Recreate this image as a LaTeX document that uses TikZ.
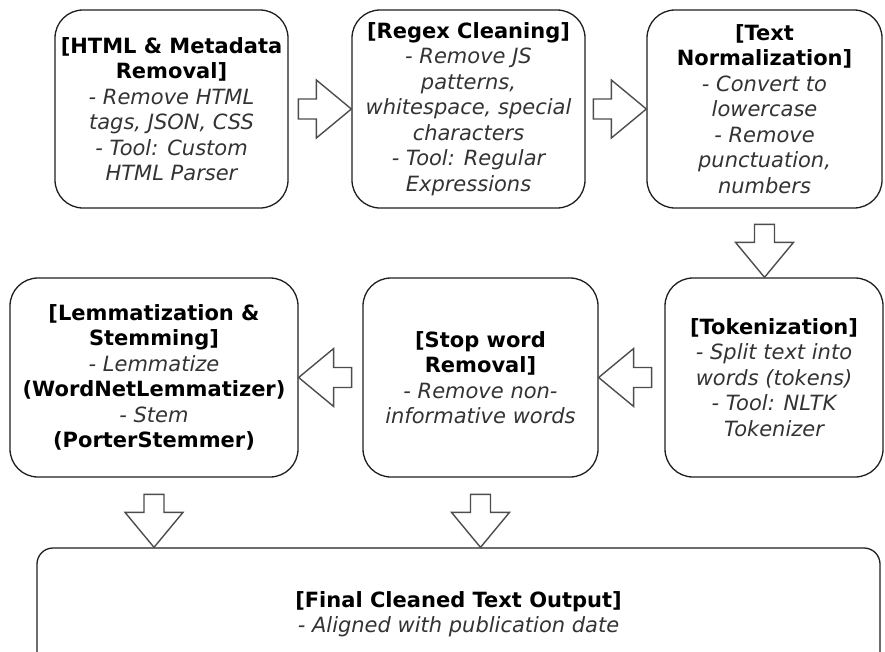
\documentclass[tikz,border=0pt]{standalone}
\usepackage{fontspec}
\setmainfont{DejaVu Sans}
\usepackage{tikz}
\usetikzlibrary{calc}

\definecolor{boxline}{HTML}{1F1F1F}
\definecolor{arrowline}{HTML}{4D4D4D}
\definecolor{desctext}{HTML}{333333}

\tikzset{
  stepbox/.style={draw=boxline, line width=1.3pt, rounded corners=28pt, fill=white,
    align=center, inner sep=0pt, text=black,
    font=\fontsize{21}{25.5}\selectfont},
  flowarrow/.style={draw=arrowline, line width=1.4pt, fill=white, line join=miter}
}

% block arrow: fixed length, tip on the target anchor
\newcommand{\flowarrow}[2]{%
  \coordinate (fa-t) at (#2);
  \coordinate (fa-s) at ($(fa-t)!53pt!(#1)$);
  \coordinate (fa-h) at ($(fa-t)!35pt!(#1)$);
  \draw[flowarrow] ($(fa-s)!10pt!90:(fa-t)$) -- ($(fa-h)!10pt!90:(fa-t)$)
    -- ($(fa-h)!29pt!90:(fa-t)$) -- (fa-t) -- ($(fa-h)!29pt!-90:(fa-t)$)
    -- ($(fa-h)!10pt!-90:(fa-t)$) -- ($(fa-s)!10pt!-90:(fa-t)$) -- cycle;}

\newcommand{\desc}[1]{{\itshape\color{desctext}#1}}

\begin{document}
\begin{tikzpicture}[x=1pt, y=-1pt]

        \useasboundingbox (0,0) rectangle (885,651);
        \clip (0,0) rectangle (885,651);

        % top row
        \node[stepbox, minimum width=233pt, minimum height=198pt] (html) at (171.5,109)
          {\textbf{[HTML \& Metadata}\\ \textbf{Removal]}\\ \desc{- Remove HTML}\\ \desc{tags, JSON, CSS}\\ \desc{- Tool: Custom}\\ \desc{HTML Parser}};

        \node[stepbox, minimum width=233pt, minimum height=198pt] (regex) at (468.5,109)
          {\textbf{[Regex Cleaning]}\\ \desc{- Remove JS}\\ \desc{patterns,}\\ \desc{whitespace, special}\\ \desc{characters}\\ \desc{- Tool: Regular}\\ \desc{Expressions}};

        \node[stepbox, minimum width=235pt, minimum height=198pt] (norm) at (764.5,109)
          {\textbf{[Text}\\ \textbf{Normalization]}\\ \desc{- Convert to}\\ \desc{lowercase}\\ \desc{- Remove}\\ \desc{punctuation,}\\ \desc{numbers}};

        % middle row
        \node[stepbox, minimum width=218pt, minimum height=199pt] (token) at (774,377.5)
          {\textbf{[Tokenization]}\\ \desc{- Split text into}\\ \desc{words (tokens)}\\ \desc{- Tool: NLTK}\\ \desc{Tokenizer}};

        \node[stepbox, minimum width=235pt, minimum height=199pt] (stop) at (480.5,377.5)
          {\textbf{[Stop word}\\ \textbf{Removal]}\\ \desc{- Remove non-}\\ \desc{informative words}};

        \node[stepbox, minimum width=288pt, minimum height=199pt] (lemma) at (154,377.5)
          {\textbf{[Lemmatization \&}\\ \textbf{Stemming]}\\ \desc{- Lemmatize}\\ \textbf{(WordNetLemmatizer)}\\ \desc{- Stem}\\ \textbf{(PorterStemmer)}};

        % output
        \node[stepbox, rounded corners=16pt, minimum width=843pt, minimum height=132pt] (final) at (458.5,614)
          {\textbf{[Final Cleaned Text Output]}\\ \desc{- Aligned with publication date}};

        % arrows
        \flowarrow{html.east}{regex.west}
        \flowarrow{regex.east}{norm.west}
        \flowarrow{norm.south}{norm.south |- token.north}
        \flowarrow{token.west}{stop.east}
        \flowarrow{stop.west}{lemma.east}
        \flowarrow{lemma.south}{lemma.south |- final.north}
        \flowarrow{stop.south}{stop.south |- final.north}

    \end{tikzpicture}
\end{document}
